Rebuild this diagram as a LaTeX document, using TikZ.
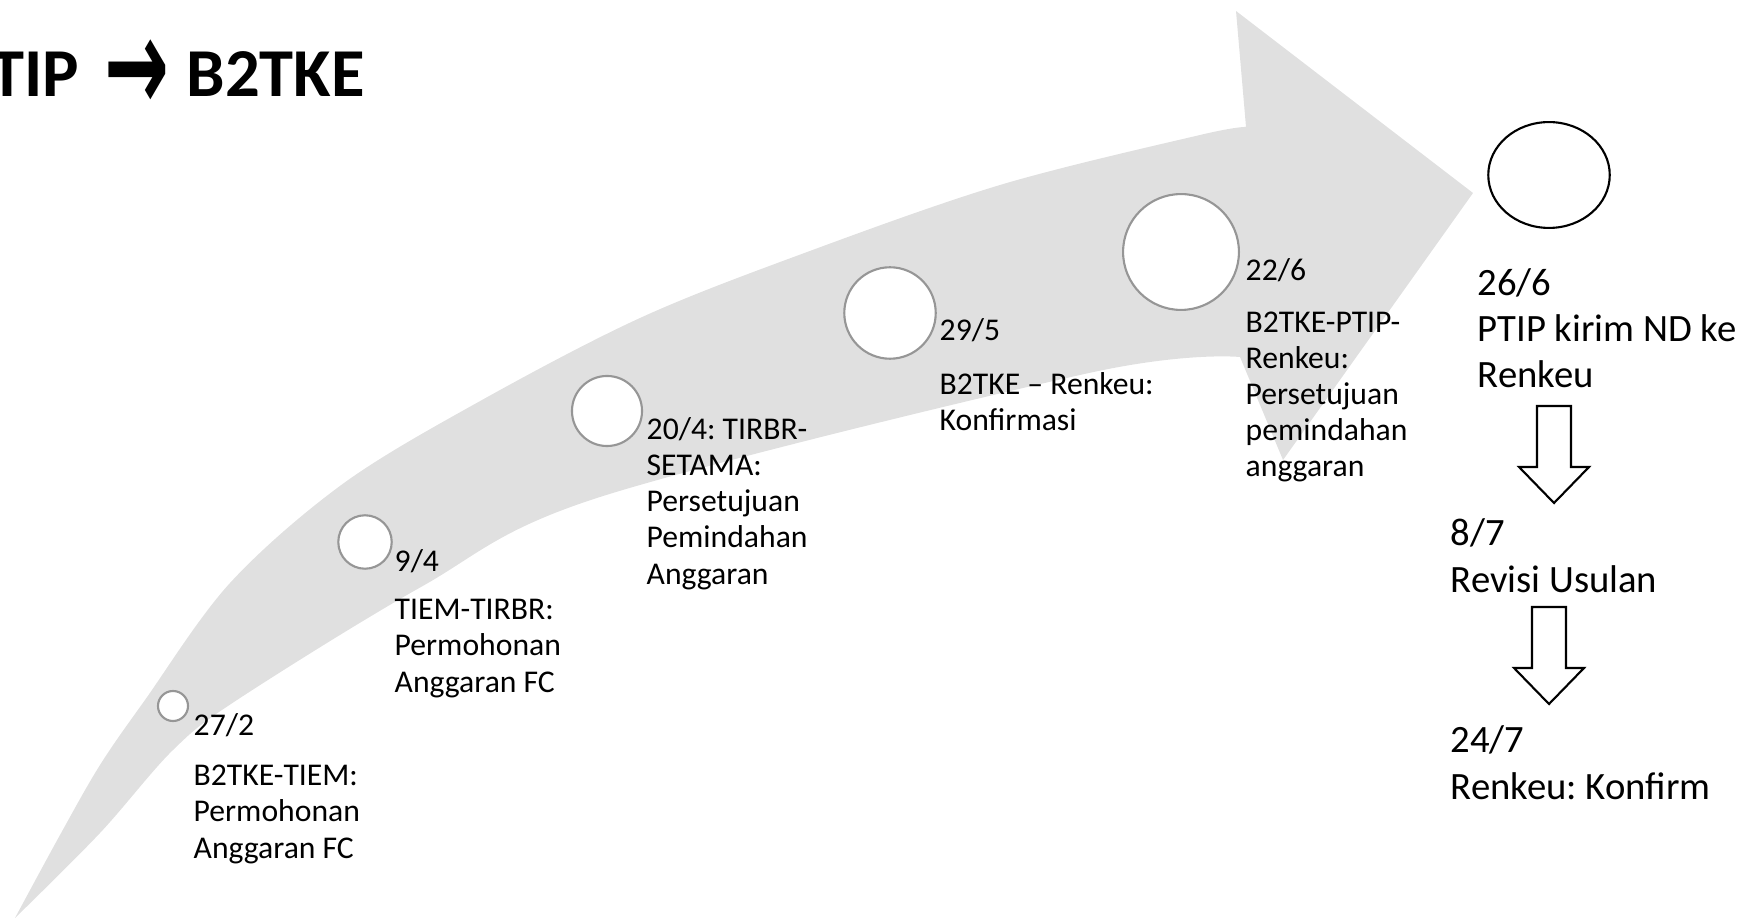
\documentclass[tikz,border=0pt]{standalone}
\usepackage{fontspec}
\usepackage{graphicx}
\setmainfont{Carlito}
\newfontfamily\symbolfont{DejaVu Sans}
\usetikzlibrary{positioning, shapes.geometric}
\definecolor{bandgray}{RGB}{224,224,224}
\definecolor{ringgray}{RGB}{150,150,150}
\frenchspacing

\begin{document}
\begin{tikzpicture}[
          x = 0.01cm, y = -0.01cm,
       band/.style = {fill=bandgray},
  milestone/.style = {circle, draw=ringgray, line width=0.6pt, fill=white, inner sep=0pt},
   lastring/.style = {ellipse, draw=black, line width=0.6pt, fill=white, inner sep=0pt},
  datelabel/.style = {anchor=base west, inner sep=0pt, font=\fontsize{9}{10.25}\selectfont},
  notelabel/.style = {anchor=base west, inner sep=0pt, align=left, font=\fontsize{9}{10.25}\selectfont},
  steplabel/.style = {anchor=base west, inner sep=0pt, align=left, font=\fontsize{11}{13.1}\selectfont},
 titlelabel/.style = {anchor=base west, inner sep=0pt, font=\fontsize{19.5}{23}\selectfont\bfseries},
  blockline/.style = {draw=black, line width=0.6pt, fill=white},
  downblock/.pic   = {\draw[blockline] (-17,0) -- (17,0) -- (17,61) -- (35,61) -- (0,97) -- (-35,61) -- (-17,61) -- cycle;}
                        ]
\useasboundingbox (0,0) rectangle (1746,922);
% curved band
\fill[band] plot[smooth, tension=0.55] coordinates {(15,918) (60,835) (100,765) (145,700) (230,583) (344,483) (482,400) (640,318) (799,255) (1000,185) (1200,135) (1246,127)}
    -- (1236,11) -- (1473,193) -- (1283,460) -- (1240,357)
    -- plot[smooth, tension=0.55] coordinates {(1240,357) (1089,373) (600,497) (421,587) (237,700) (173,750) (100,833) (15,918)} -- cycle;
% title
\node[titlelabel] (title) at (-10,97) {TIP\hspace{7pt}\raisebox{-4pt}{\scalebox{1.05}[1.8]{\fontsize{21}{21}\selectfont\symbolfont →}}\hspace{5pt}B2TKE};
% milestones on the band
\node[milestone, minimum size=0.30cm]  (c272) at (173,706) {};
\node[milestone, minimum size=0.534cm] (c94)  at (365,542) {};
\node[milestone, minimum size=0.70cm]  (c204) at (607,411) {};
\node[milestone, minimum size=0.914cm] (c295) at (890,313) {};
\node[milestone, minimum size=1.158cm] (c226) at (1181,252) {};
\node[lastring, minimum width=1.214cm, minimum height=1.058cm] (c266) at (1549,175) {};
% labels (multi-line nodes sit on their last line)
\node[datelabel] (d272) at (193,735) {27/2};
\node[notelabel] (n272) at (193,858) {B2TKE-TIEM:\\Permohonan\\Anggaran FC};
\node[datelabel] (d94) at (394,571) {9/4};
\node[notelabel] (n94) at (394,692) {TIEM-TIRBR:\\Permohonan\\Anggaran FC};
\node[notelabel] (n204) at (646,584) {20/4: TIRBR-\\SETAMA:\\Persetujuan\\Pemindahan\\Anggaran};
\node[datelabel] (d295) at (939,341) {29/5};
\node[notelabel] (n295) at (939,431) {B2TKE – Renkeu:\\Konfirmasi};
\node[datelabel] (d226) at (1245,281) {22/6};
\node[notelabel] (n226) at (1245,477) {B2TKE-PTIP-\\Renkeu:\\Persetujuan\\pemindahan\\anggaran};
% follow-up steps
\node[steplabel] (s266) at (1477,388) {26/6\\PTIP kirim ND ke\\Renkeu};
\node[steplabel] (s87)  at (1450,592) {8/7\\Revisi Usulan};
\node[steplabel] (s247) at (1450,799) {24/7\\Renkeu: Konfirm};
\pic at (1554,406) {downblock};
\pic at (1549,607) {downblock};
\end{tikzpicture}
\end{document}
